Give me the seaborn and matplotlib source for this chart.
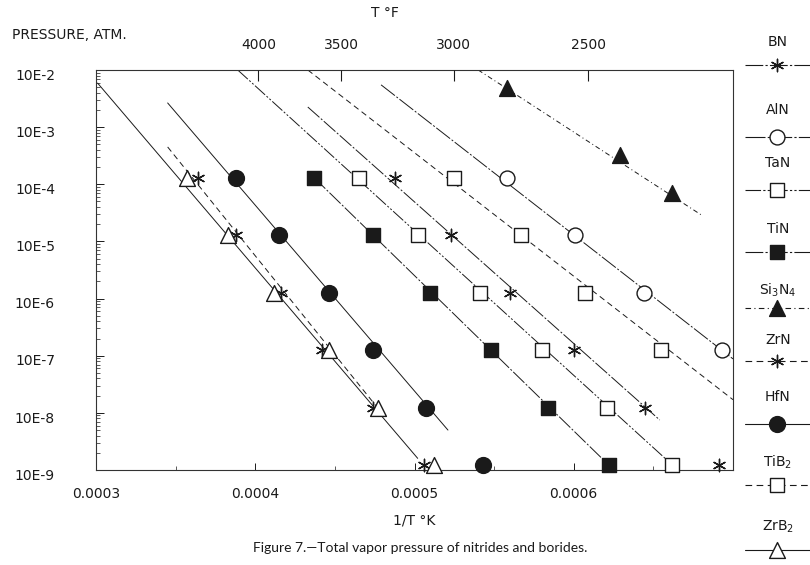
"""
Total vapor pressure of nitrides and borides (Figure 7), redrawn.
"""

import numpy as np
import matplotlib
matplotlib.use("Agg")
import matplotlib.pyplot as plt
import matplotlib.transforms as mtransforms
from matplotlib.ticker import FixedLocator, LogLocator, NullFormatter
import seaborn as sns

# pressure (atm) of the plotted rows
p_rows = [1.3e-4, 1.3e-5, 1.25e-6, 1.25e-7, 1.22e-8, 1.22e-9]

# 1/T (1/K) of each point, one list per compound
zrb2_x = [3.57e-4, 3.83e-4, 4.12e-4, 4.46e-4, 4.77e-4, 5.12e-4]
zrn_x = [3.64e-4, 3.88e-4, 4.16e-4, 4.42e-4, 4.74e-4, 5.06e-4]
hfn_x = [3.88e-4, 4.15e-4, 4.46e-4, 4.74e-4, 5.07e-4, 5.43e-4]
tin_x = [4.37e-4, 4.74e-4, 5.10e-4, 5.48e-4, 5.84e-4, 6.22e-4]
tan_x = [4.65e-4, 5.02e-4, 5.41e-4, 5.80e-4, 6.21e-4, 6.62e-4]
bn_x = [4.88e-4, 5.23e-4, 5.60e-4, 6.00e-4, 6.45e-4, 6.91e-4]
tib2_x = [5.25e-4, 5.67e-4, 6.07e-4, 6.55e-4]
aln_x = [5.58e-4, 6.01e-4, 6.44e-4, 6.93e-4]
si3n4_x = [5.58e-4, 6.29e-4, 6.62e-4]
si3n4_p = [4.8e-3, 3.25e-4, 7.0e-5]

# end points of the drawn lines: (x0, x1), (p0, p1)
zrb2_line = ([3.01e-4, 5.02e-4], [5.9e-3, 1.6e-9])
zrn_line = ([3.45e-4, 4.82e-4], [4.5e-4, 8.1e-9])
hfn_line = ([3.45e-4, 5.21e-4], [2.65e-3, 5.0e-9])
tin_line = ([4.37e-4, 6.22e-4], [1.3e-4, 1.22e-9])
tan_line = ([3.89e-4, 6.62e-4], [1.0e-2, 1.22e-9])
bn_line = ([4.33e-4, 6.54e-4], [2.25e-3, 7.5e-9])
tib2_line = ([4.33e-4, 7.0e-4], [1.0e-2, 1.7e-8])
aln_line = ([4.79e-4, 7.0e-4], [5.5e-3, 8.8e-8])
si3n4_line = ([5.40e-4, 6.81e-4], [1.0e-2, 2.8e-5])

x_ticks = [3e-4, 4e-4, 5e-4, 6e-4]
x_labels = ["0.0003", "0.0004", "0.0005", "0.0006"]
x_minor = [3.5e-4, 4.5e-4, 5.5e-4, 6.5e-4]
y_ticks = [1e-2, 1e-3, 1e-4, 1e-5, 1e-6, 1e-7, 1e-8, 1e-9]
y_labels = ["10E-2", "10E-3", "10E-4", "10E-5", "10E-6", "10E-7", "10E-8", "10E-9"]
top_pos = [4.02e-4, 4.54e-4, 5.245e-4, 6.09e-4]
top_labels = ["4000", "3500", "3000", "2500"]

INK = "#1a1a1a"

sns.set_theme(style="white")
plt.rcParams["font.family"] = ["DejaVu Sans"]
plt.rcParams["mathtext.fontset"] = "dejavusans"

# name, x, p, line, marker, fill, linestyle, size
series = [
    ("BN", bn_x, p_rows, bn_line, (6, 2, 0), None, (0, (16, 2, 2, 2)), 80),
    ("AlN", aln_x, p_rows, aln_line, "o", "white", (0, (18, 2, 2, 2)), 115),
    ("TaN", tan_x, p_rows, tan_line, "s", "white", (0, (14, 2, 2, 2, 2, 2)), 95),
    ("TiN", tin_x, p_rows, tin_line, "s", INK, (0, (16, 2, 2, 2)), 105),
    ("Si$_3$N$_4$", si3n4_x, si3n4_p, si3n4_line, "^", INK, (0, (5, 3, 1, 3)), 130),
    ("ZrN", zrn_x, p_rows, zrn_line, (6, 2, 0), None, (0, (6, 4)), 80),
    ("HfN", hfn_x, p_rows, hfn_line, "o", INK, "-", 130),
    ("TiB$_2$", tib2_x, p_rows, tib2_line, "s", "white", (0, (6, 4)), 95),
    ("ZrB$_2$", zrb2_x, p_rows, zrb2_line, "^", "white", "-", 130),
]

fig = plt.figure(figsize=(8.1, 5.65), dpi=100)
ax = fig.add_axes([96 / 810, 1 - 470 / 565, 637 / 810, 400 / 565])
ax.set_yscale("log")

for name, xs, ps, line, mk, fill, ls, size in series:
    sns.lineplot(x=line[0], y=line[1], ax=ax, color=INK, linewidth=0.7,
                 linestyle=ls, estimator=None, sort=False)
    n = len(xs)
    if fill is None:
        sns.scatterplot(x=xs, y=ps[:n], ax=ax, marker=mk, s=size, color=INK,
                        linewidth=1.0, zorder=3, clip_on=False)
    else:
        sns.scatterplot(x=xs, y=ps[:n], ax=ax, marker=mk, s=size, color=fill,
                        edgecolor=INK, linewidth=1.0, zorder=3, clip_on=False)

ax.set_xlim(3e-4, 7e-4)
ax.set_ylim(1e-9, 1e-2)
ax.set_xticks(x_ticks)
ax.set_xticklabels(x_labels)
ax.xaxis.set_minor_locator(FixedLocator(x_minor))
ax.set_yticks(y_ticks)
ax.set_yticklabels(y_labels)
ax.yaxis.set_minor_locator(LogLocator(base=10, subs=np.arange(2, 10)))
ax.yaxis.set_minor_formatter(NullFormatter())
ax.set_xlabel("")
ax.set_ylabel("")

ax.tick_params(axis="y", which="major", direction="in", length=6, width=0.7,
               pad=29.5, labelsize=10, colors=INK, left=True)
ax.tick_params(axis="y", which="minor", direction="in", length=3, width=0.5,
               left=True, colors=INK)
ax.tick_params(axis="x", which="major", direction="in", length=5, width=0.7,
               pad=12, labelsize=10, colors=INK, bottom=True)
ax.tick_params(axis="x", which="minor", direction="in", length=3, width=0.5,
               bottom=True, colors=INK)
for side in ax.spines.values():
    side.set_color("#333333")
    side.set_linewidth(0.8)

offset = mtransforms.ScaledTranslation(0, -3 / 72, fig.dpi_scale_trans)
for lbl in ax.yaxis.get_majorticklabels():
    lbl.set_transform(lbl.get_transform() + offset)

# top axis in degrees F
ax_top = ax.twiny()
ax_top.set_xlim(ax.get_xlim())
ax_top.set_xticks(top_pos)
ax_top.set_xticklabels(top_labels)
ax_top.tick_params(axis="x", direction="in", length=8, width=0.8, pad=13,
                   labelsize=10, colors=INK, top=True)
for side in ax_top.spines.values():
    side.set_visible(False)

# overlay in pixel coordinates for the texts and the legend column
ov = fig.add_axes([0, 0, 1, 1])
ov.set_xlim(0, 810)
ov.set_ylim(565, 0)
ov.axis("off")
ov.patch.set_visible(False)

ov.text(12, 35, "PRESSURE, ATM.", fontsize=10, color=INK, ha="left", va="center")
ov.text(385, 13, "T °F", fontsize=10, color=INK, ha="center", va="center")
ov.text(414, 520, "1/T °K", fontsize=10, color=INK, ha="center", va="center")
ov.text(420, 548, "Figure 7.—Total vapor pressure of nitrides and borides.",
        fontsize=10, color=INK, ha="center", va="center", family=["Lato", "DejaVu Sans"])

leg_label_y = [42, 110, 163, 229, 290, 340, 397, 462, 527]
leg_line_y = [65, 137, 190, 252, 308, 361, 424, 485, 550]
for (name, xs, ps, line, mk, fill, ls, size), ly, my in zip(series, leg_label_y, leg_line_y):
    ov.text(778, ly, name, fontsize=10, color=INK, ha="center", va="center")
    ov.plot([745, 810], [my, my], color=INK, linewidth=0.8, linestyle=ls, clip_on=False)
    if fill is None:
        ov.scatter([777], [my], marker=mk, s=size, color=INK, linewidth=1.0, zorder=3)
    else:
        ov.scatter([777], [my], marker=mk, s=size, color=fill, edgecolor=INK,
                   linewidth=1.0, zorder=3)

fig.savefig("out.png", dpi=100)
plt.close(fig)
